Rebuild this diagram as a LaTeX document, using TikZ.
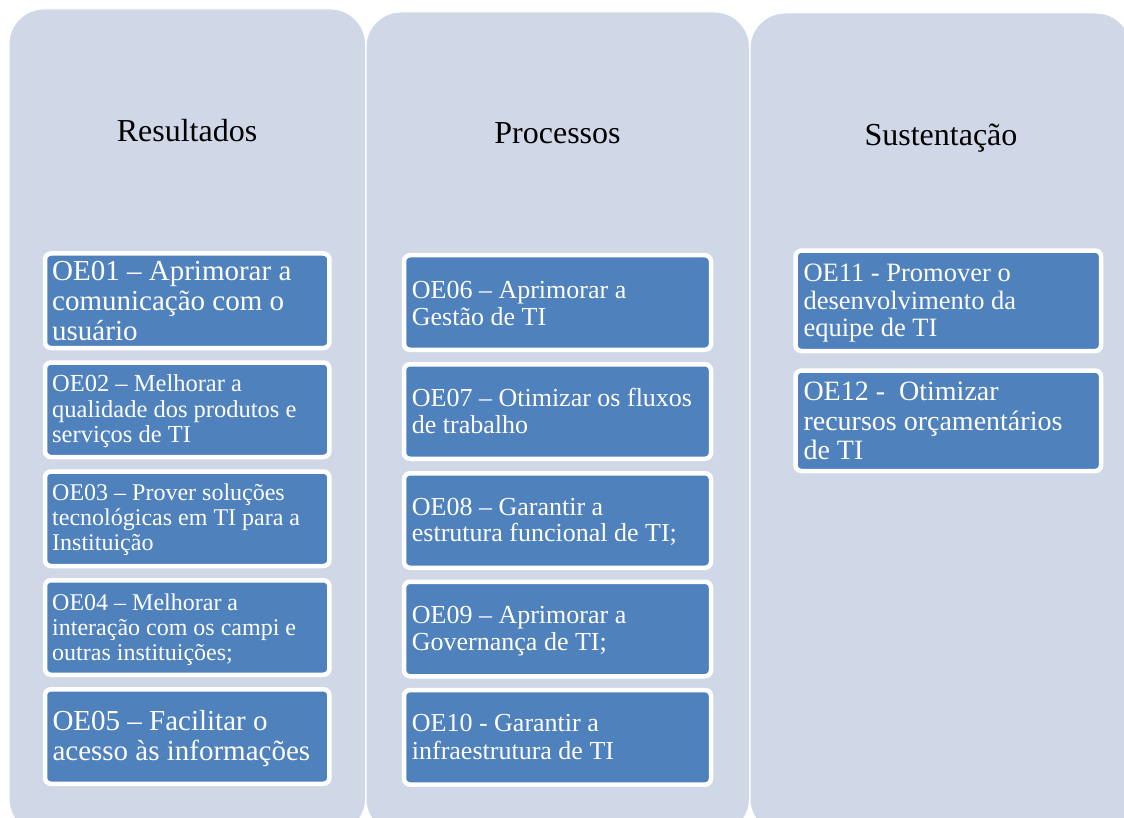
\documentclass[tikz,border=0pt]{standalone}
\usepackage{fontspec}
\setmainfont{Liberation Serif}
\definecolor{colbg}{RGB}{208,216,232}
\definecolor{boxblue}{RGB}{79,129,189}
\begin{document}
\begin{tikzpicture}[x=1pt,y=-1pt,
  column/.style={fill=colbg, draw=white, line width=1pt, rounded corners=35pt},
  title/.style={anchor=base, inner sep=0pt, font=\fontsize{32}{38}\selectfont, text=black},
  obox/.style={rectangle, rounded corners=6pt, fill=boxblue, draw=white, line width=4.5pt, inner sep=0pt},
  boxa/.style={obox, minimum width=284.4pt, minimum height=94.5pt},
  boxb/.style={obox, minimum width=307pt, minimum height=94.5pt},
  boxc/.style={obox, minimum width=305.5pt, minimum height=100.5pt},
  otext/.style={anchor=base west, inner sep=0pt, align=left, text=white},
]
\useasboundingbox (0,0) rectangle (1124,818);
\clip (0,0) rectangle (1124,818);
% columns
\path[column] (9,9) rectangle (365.5,834);
\path[column] (366,12) rectangle (749.5,834);
\path[column] (750,13) rectangle (1131,834);
% titles
\node[title] (tres) at (187,141.7) {Resultados};
\node[title] (tpro) at (557.5,144) {Processos};
\node[title] (tsus) at (941,145.7) {Sustentação};
% column 1 boxes
\node[boxa] (b01) at (187.2,300.75) {};
\node[boxa] (b02) at (187.2,409.75) {};
\node[boxa] (b03) at (187.2,518.75) {};
\node[boxa] (b04) at (187.2,627.5) {};
\node[boxa] (b05) at (187.2,736.5) {};
% column 2 boxes
\node[boxb] (b06) at (557.5,302.5) {};
\node[boxb] (b07) at (557.5,411.5) {};
\node[boxb] (b08) at (557.5,520.5) {};
\node[boxb] (b09) at (557.5,629) {};
\node[boxb] (b10) at (557.5,737.3) {};
% column 3 boxes
\node[boxc] (b11) at (948.3,300.8) {};
\node[boxc] (b12) at (948.3,420.8) {};
% texts (anchor = baseline of last line)
\node[otext, font=\fontsize{29}{30}\selectfont] (t01) at (52,340) {OE01 – Aprimorar a\\comunicação com o\\usuário};
\node[otext, font=\fontsize{24.5}{25.3}\selectfont] (t02) at (52,442.3) {OE02 – Melhorar a\\qualidade dos produtos e\\serviços de TI};
\node[otext, font=\fontsize{24}{25}\selectfont] (t03) at (52,550.7) {OE03 – Prover soluções\\tecnológicas em TI para a\\Instituição};
\node[otext, font=\fontsize{24}{24.7}\selectfont] (t04) at (52,660.1) {OE04 – Melhorar a\\interação com os campi e\\outras instituições;};
\node[otext, font=\fontsize{29}{29.5}\selectfont] (t05) at (52.3,760.2) {OE05 – Facilitar o\\acesso às informações};
\node[otext, font=\fontsize{26}{26.7}\selectfont] (t06) at (411.7,325) {OE06 – Aprimorar a\\Gestão de TI};
\node[otext, font=\fontsize{26}{26.7}\selectfont] (t07) at (411.7,433.4) {OE07 – Otimizar os fluxos\\de trabalho};
\node[otext, font=\fontsize{26}{26.7}\selectfont] (t08) at (411.7,541.7) {OE08 – Garantir a\\estrutura funcional de TI;};
\node[otext, font=\fontsize{26}{26.7}\selectfont] (t09) at (411.7,650) {OE09 – Aprimorar a\\Governança de TI;};
\node[otext, font=\fontsize{26}{28}\selectfont] (t10) at (411.7,759.7) {OE10 - Garantir a\\infraestrutura de TI};
\node[otext, font=\fontsize{26.5}{27.6}\selectfont] (t11) at (803.3,336.9) {OE11 - Promover o\\desenvolvimento da\\equipe de TI};
\node[otext, font=\fontsize{28}{29.6}\selectfont] (t12) at (803.3,459.9) {OE12 -~ Otimizar\\recursos orçamentários\\de TI};
\end{tikzpicture}
\end{document}
